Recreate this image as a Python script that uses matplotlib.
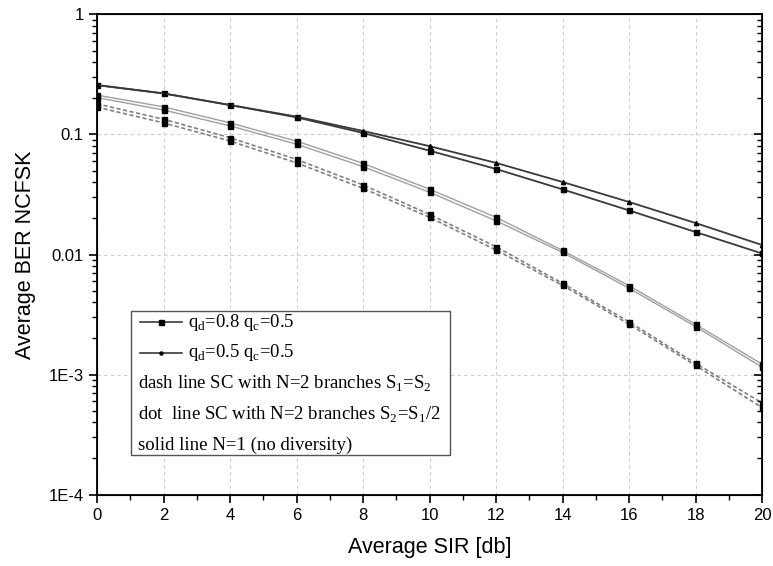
import numpy as np
import matplotlib
matplotlib.use('Agg')
import matplotlib.pyplot as plt
from matplotlib.lines import Line2D
from matplotlib.patches import Rectangle
from matplotlib.ticker import FixedLocator, LogLocator, NullFormatter

plt.rcParams['font.family'] = ['Liberation Sans', 'DejaVu Sans']

sir = [0, 2, 4, 6, 8, 10, 12, 14, 16, 18, 20]

# solid line, N=1 (no diversity)
ber_n1_q08 = [0.258, 0.220, 0.176, 0.139, 0.103, 0.0733, 0.0516, 0.0349, 0.0233, 0.0154, 0.0102]
ber_n1_q05 = [0.258, 0.220, 0.176, 0.141, 0.107, 0.0800, 0.0580, 0.0402, 0.0274, 0.0183, 0.0120]

# dot line, SC N=2, S2=S1/2
ber_dot_q08 = [0.203, 0.160, 0.118, 0.083, 0.054, 0.0330, 0.0191, 0.0104, 0.00524, 0.00251, 0.00115]
ber_dot_q05 = [0.213, 0.170, 0.125, 0.088, 0.0575, 0.0350, 0.0204, 0.0108, 0.00550, 0.00262, 0.00122]

# dash line, SC N=2, S1=S2
ber_dash_q08 = [0.169, 0.125, 0.0883, 0.058, 0.0356, 0.0204, 0.0109, 0.00553, 0.00263, 0.00119, 0.00053]
ber_dash_q05 = [0.180, 0.134, 0.094, 0.062, 0.038, 0.0216, 0.0116, 0.00575, 0.00275, 0.00124, 0.00058]

ytick_vals = [1e-4, 1e-3, 1e-2, 1e-1, 1]
ytick_labels = ['1E-4', '1E-3', '0.01', '0.1', '1']

legend_rows = [
    'q$_\\mathregular{d}$=0.8 q$_\\mathregular{c}$=0.5',
    'q$_\\mathregular{d}$=0.5 q$_\\mathregular{c}$=0.5',
    'dash line SC with N=2 branches S$_\\mathregular{1}$=S$_\\mathregular{2}$',
    'dot  line SC with N=2 branches S$_\\mathregular{2}$=S$_\\mathregular{1}$/2',
    'solid line N=1 (no diversity)',
]

fig = plt.figure(figsize=(7.73, 5.66), dpi=100)
ax = fig.add_axes([0.1255, 0.1263, 0.8603, 0.8481])

sq = dict(marker='s', markersize=3.6, markerfacecolor='black', markeredgecolor='black')
tri = dict(marker='^', markersize=3.0, markerfacecolor='black', markeredgecolor='black')

ax.plot(sir, ber_n1_q08, color='#3a3a3a', lw=1.3, **sq)
ax.plot(sir, ber_n1_q05, color='#3a3a3a', lw=1.3, **tri)
ax.plot(sir, ber_dot_q08, color='#a0a0a0', lw=1.0, **sq)
ax.plot(sir, ber_dot_q05, color='#a0a0a0', lw=1.0, **sq)
ax.plot(sir, ber_dash_q08, color='#808080', lw=1.2, ls=(0, (2.5, 1.5)), **sq)
ax.plot(sir, ber_dash_q05, color='#808080', lw=1.2, ls=(0, (2.5, 1.5)), **sq)

ax.set_yscale('log')
ax.set_xlim(0, 20)
ax.set_ylim(1e-4, 1)
ax.set_xticks(np.arange(0, 21, 2))
ax.xaxis.set_minor_locator(FixedLocator(np.arange(1, 20, 2)))
ax.yaxis.set_major_locator(FixedLocator(ytick_vals))
ax.set_yticklabels(ytick_labels)
ax.yaxis.set_minor_locator(LogLocator(base=10, subs=np.arange(2, 10)))
ax.yaxis.set_minor_formatter(NullFormatter())

ax.grid(True, which='major', color='#cccccc', ls=(0, (3, 3)), lw=0.8)
ax.tick_params(which='major', direction='out', length=6, width=1.2, labelsize=12, colors='black')
ax.tick_params(which='minor', direction='out', length=3.5, width=1.0)
for s in ax.spines.values():
    s.set_linewidth(1.3)

# right axis ticks pointing inward
axr = ax.twinx()
axr.set_yscale('log')
axr.set_ylim(1e-4, 1)
axr.yaxis.set_major_locator(FixedLocator(ytick_vals))
axr.yaxis.set_minor_locator(LogLocator(base=10, subs=np.arange(2, 10)))
axr.yaxis.set_major_formatter(NullFormatter())
axr.yaxis.set_minor_formatter(NullFormatter())
axr.tick_params(which='major', direction='in', length=6, width=1.2)
axr.tick_params(which='minor', direction='in', length=3.5, width=1.0)

ax.set_xlabel('Average SIR [db]', fontsize=15.5, labelpad=10)
ax.set_ylabel('Average BER NCFSK', fontsize=15.5, labelpad=9)

# legend box drawn by hand
ax.add_patch(Rectangle((0.051, 0.082), 0.48, 0.30, transform=ax.transAxes,
                       facecolor='white', edgecolor='#555555', lw=1.0, zorder=5))
row_y = [0.359, 0.295, 0.231, 0.167, 0.103]
ax.add_line(Line2D([0.065, 0.128], [row_y[0]] * 2, transform=ax.transAxes, color='#3a3a3a',
                   lw=1.2, zorder=6))
ax.add_line(Line2D([0.0965], [row_y[0]], transform=ax.transAxes, zorder=7, **sq))
ax.add_line(Line2D([0.065, 0.128], [row_y[1]] * 2, transform=ax.transAxes, color='#3a3a3a',
                   lw=1.2, zorder=6))
ax.add_line(Line2D([0.0965], [row_y[1]], transform=ax.transAxes, zorder=7,
                   marker='o', markersize=2.2, color='black'))
for i, txt in enumerate(legend_rows):
    x0 = 0.137 if i < 2 else 0.062
    ax.text(x0, row_y[i], txt, transform=ax.transAxes, va='center', ha='left',
            fontsize=13.5, family=['Liberation Serif', 'DejaVu Serif'], zorder=7)

fig.savefig('out.png', dpi=100)
